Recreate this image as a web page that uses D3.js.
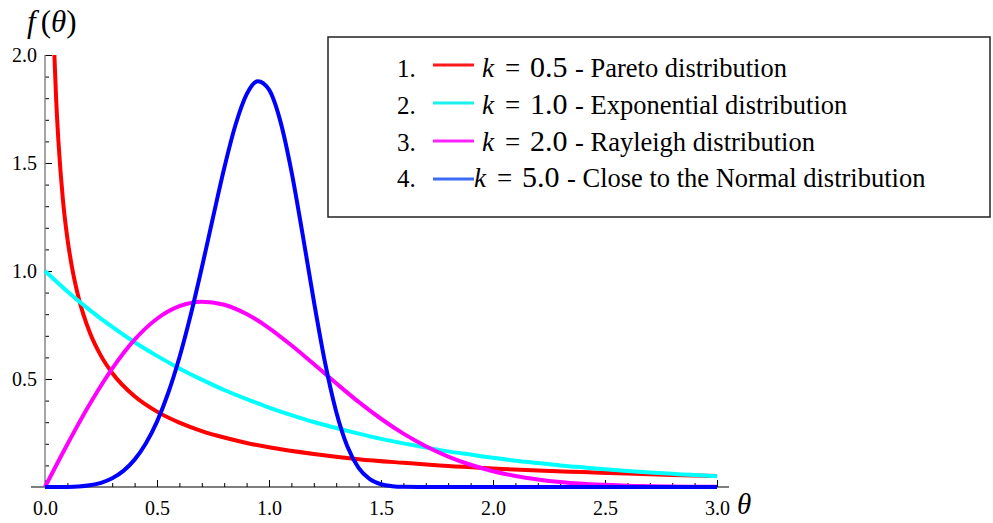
<!DOCTYPE html>
<html>
<head>
<meta charset="utf-8">
<script src="https://cdn.jsdelivr.net/npm/d3@7"></script>
<style>
  body { margin: 0; background: #fff; }
  svg text { font-family: "Liberation Serif", "DejaVu Serif", serif !important; }
</style>
</head>
<body>
<div id="canvas"></div>
<script>
"use strict"

let svgWidth = 993
let svgHeight = 523

// plot area (pixel edges of the axes)
let leftX = 45, rightX = 717, topY = 55, bottomY = 487

// theta values and densities
let thetaPareto = [0.02, 0.03, 0.04, 0.05, 0.06, 0.08, 0.1, 0.12, 0.15, 0.2, 0.25, 0.3, 0.4, 0.5, 0.6, 0.7, 0.8, 0.9, 1.0, 1.2, 1.4, 1.6, 1.8, 2.0, 2.2, 2.4, 2.6, 2.8, 3.0]
let paretoValues = [3.07, 2.43, 2.05, 1.79, 1.60, 1.33, 1.15, 1.02, 0.876, 0.715, 0.607, 0.528, 0.420, 0.349, 0.298, 0.259, 0.229, 0.204, 0.184, 0.153, 0.129, 0.112, 0.097, 0.086, 0.076, 0.069, 0.062, 0.056, 0.051]

let thetaTenth = [0, 0.1, 0.2, 0.3, 0.4, 0.5, 0.6, 0.7, 0.8, 0.9, 1.0, 1.1, 1.2, 1.3, 1.4, 1.5, 1.6, 1.7, 1.8, 1.9, 2.0, 2.1, 2.2, 2.3, 2.4, 2.5, 2.6, 2.7, 2.8, 2.9, 3.0]
let exponentialValues = [1.000, 0.905, 0.819, 0.741, 0.670, 0.607, 0.549, 0.497, 0.449, 0.407, 0.368, 0.333, 0.301, 0.273, 0.247, 0.223, 0.202, 0.183, 0.165, 0.150, 0.135, 0.122, 0.111, 0.100, 0.091, 0.082, 0.074, 0.067, 0.061, 0.055, 0.050]
let rayleighValues = [0, 0.198, 0.384, 0.548, 0.682, 0.779, 0.837, 0.858, 0.844, 0.801, 0.736, 0.656, 0.569, 0.480, 0.394, 0.316, 0.247, 0.189, 0.141, 0.103, 0.073, 0.051, 0.035, 0.023, 0.015, 0.010, 0.006, 0.004, 0.002, 0.001, 0.001]

let thetaNormal = [0, 0.05, 0.1, 0.15, 0.2, 0.25, 0.3, 0.35, 0.4, 0.45, 0.5, 0.55, 0.6, 0.65, 0.7, 0.75, 0.8, 0.85, 0.9, 0.95, 1.0, 1.05, 1.1, 1.15, 1.2, 1.25, 1.3, 1.35, 1.4, 1.45, 1.5, 1.55, 1.6, 1.7, 2.0, 3.0]
let normalValues = [0, 0.000, 0.0005, 0.0025, 0.008, 0.0195, 0.0404, 0.0746, 0.1267, 0.2013, 0.3029, 0.4351, 0.5995, 0.7948, 1.0148, 1.2477, 1.4758, 1.6749, 1.8177, 1.8787, 1.8394, 1.6962, 1.4626, 1.1701, 0.8616, 0.5770, 0.3486, 0.1875, 0.0887, 0.0364, 0.0127, 0.0038, 0.0009, 0, 0, 0]

let legendNumbers = ["1.", "2.", "3.", "4."]
let legendK = ["0.5", "1.0", "2.0", "5.0"]
let legendNames = ["Pareto distribution", "Exponential distribution", "Rayleigh distribution", "Close to the Normal distribution"]
let lineColors = ["#ff0000", "#00ffff", "#ff00ff", "#0000ff"]
let legendColors = ["#ff1a1a", "#1af0f0", "#ff22ff", "#3b6cf5"]

let xTicks = [0, 0.5, 1.0, 1.5, 2.0, 2.5, 3.0]
let yTicks = [0.5, 1.0, 1.5, 2.0]

let svg = d3.select("#canvas")
    .append("svg")
    .attr("width", svgWidth)
    .attr("height", svgHeight)

let xScale = d3.scaleLinear().domain([0, 3]).range([leftX, rightX])
let yScale = d3.scaleLinear().domain([0, 2]).range([bottomY, topY])

svg.append("defs").append("clipPath")
    .attr("id", "plotClip")
    .append("rect")
    .attr("x", leftX - 3)
    .attr("y", topY)
    .attr("width", rightX - leftX + 6)
    .attr("height", bottomY - topY + 3)

/* x axis */
svg.append("line")
    .attr("x1", 31).attr("x2", 729)
    .attr("y1", bottomY).attr("y2", bottomY)
    .attr("stroke", "#000").attr("stroke-width", 1.2)

let xMinor = svg.append("g")
    .attr("transform", `translate(0,${bottomY})`)
    .call(d3.axisBottom(xScale).tickValues(d3.range(0, 31).map(d => d / 10)).tickSize(-4).tickFormat(""))
let xMajor = svg.append("g")
    .attr("transform", `translate(0,${bottomY})`)
    .call(d3.axisBottom(xScale).tickValues(xTicks).tickSize(-7).tickPadding(14).tickFormat(d3.format(".1f")))
for (let g of [xMinor, xMajor]) {
    g.select(".domain").remove()
    g.selectAll("line").attr("stroke", "#000")
}
xMajor.selectAll("text")
    .attr("font-size", 20)
    .attr("fill", "#000")

/* y axis */
let yMinor = svg.append("g")
    .attr("transform", `translate(${leftX},0)`)
    .call(d3.axisLeft(yScale).tickValues(d3.range(1, 21).map(d => d / 10)).tickSize(-4).tickFormat(""))
let yMajor = svg.append("g")
    .attr("transform", `translate(${leftX},0)`)
    .call(d3.axisLeft(yScale).tickValues(yTicks).tickSize(-7).tickPadding(8).tickFormat(d3.format(".1f")))
for (let g of [yMinor, yMajor]) {
    g.select(".domain").remove()
    g.selectAll("line").attr("stroke", "#000")
}
yMajor.selectAll("text")
    .attr("font-size", 20)
    .attr("fill", "#000")

svg.append("line")
    .attr("x1", leftX).attr("x2", leftX)
    .attr("y1", topY).attr("y2", bottomY)
    .attr("stroke", "#7f7f7f").attr("stroke-width", 1.4)

/* axis labels */
let fLabel = svg.append("text")
    .attr("x", 27).attr("y", 32)
    .attr("font-size", 31)
fLabel.append("tspan").attr("font-style", "italic").text("f")
fLabel.append("tspan").attr("dx", 5).text("(")
fLabel.append("tspan").attr("font-style", "italic").text("θ")
fLabel.append("tspan").text(")")

svg.append("text")
    .attr("x", 737).attr("y", 514)
    .attr("font-size", 29)
    .attr("font-style", "italic")
    .text("θ")

/* curves */
let series = [
    { theta: thetaPareto, values: paretoValues },
    { theta: thetaTenth, values: exponentialValues },
    { theta: thetaTenth, values: rayleighValues },
    { theta: thetaNormal, values: normalValues }
]

let line = d3.line()
    .x(d => xScale(d[0]))
    .y(d => yScale(d[1]))
    .curve(d3.curveMonotoneX)

let curves = svg.append("g").attr("clip-path", "url(#plotClip)")
series.forEach(function (s, i) {
    curves.append("path")
        .datum(d3.zip(s.theta, s.values))
        .attr("d", line)
        .attr("fill", "none")
        .attr("stroke", lineColors[i])
        .attr("stroke-width", 4)
        .attr("stroke-linejoin", "round")
})

/* legend */
svg.append("rect")
    .attr("x", 328).attr("y", 37)
    .attr("width", 662).attr("height", 180)
    .attr("fill", "#fff")
    .attr("stroke", "#222")
    .attr("stroke-width", 1.5)

let rowBase = [77, 114, 151, 187]
let rowLine = [65, 103, 141, 179]
for (let i = 0; i < 4; i++) {
    let y = rowBase[i]
    let shift = i == 3 ? -8 : 0
    svg.append("text")
        .attr("x", 397).attr("y", y)
        .attr("font-size", 25)
        .text(legendNumbers[i])
    svg.append("line")
        .attr("x1", 433).attr("x2", 474)
        .attr("y1", rowLine[i]).attr("y2", rowLine[i])
        .attr("stroke", legendColors[i])
        .attr("stroke-width", 3)
    svg.append("text")
        .attr("x", 482 + shift).attr("y", y)
        .attr("font-size", 27).attr("font-style", "italic")
        .text("k")
    svg.append("text")
        .attr("x", 505 + shift).attr("y", y)
        .attr("font-size", 27)
        .text("=")
    svg.append("text")
        .attr("x", 530 + shift).attr("y", y)
        .attr("font-size", 30)
        .text(legendK[i])
    svg.append("text")
        .attr("x", 575 + shift).attr("y", y)
        .attr("font-size", 26.5)
        .text("- " + legendNames[i])
}
</script>
</body>
</html>
